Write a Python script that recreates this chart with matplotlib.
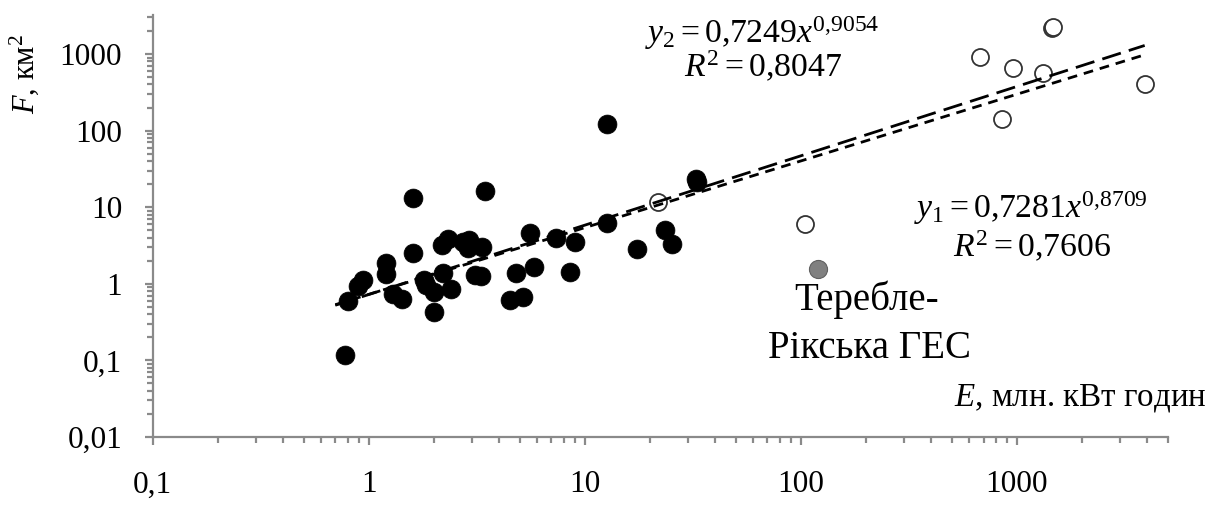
import matplotlib
matplotlib.use('Agg')
import matplotlib.pyplot as plt
from matplotlib.ticker import FixedLocator, LogLocator, NullFormatter
import numpy as np

plt.rcParams['font.family'] = ['Liberation Serif', 'DejaVu Serif']
plt.rcParams['mathtext.fontset'] = 'custom'
plt.rcParams['mathtext.rm'] = 'Liberation Serif'
plt.rcParams['mathtext.it'] = 'Liberation Serif:italic'

# small HPPs (filled black)
e_black = [0.78, 0.80, 0.89, 0.94, 1.20, 1.20, 1.30, 1.42, 1.61, 1.61,
           1.81, 1.84, 2.01, 2.01, 2.19, 2.21, 2.32, 2.40, 2.72, 2.87,
           2.90, 3.34, 3.10, 3.30, 3.46, 4.50, 4.79, 5.18, 5.56, 5.82,
           7.38, 8.50, 9.00, 12.6, 12.7, 17.5, 23.4, 25.2, 32.7, 33.0]
f_black = [0.119, 0.60, 0.94, 1.13, 1.86, 1.35, 0.74, 0.63, 13.1, 2.51,
           1.13, 0.97, 0.79, 0.43, 3.22, 1.38, 3.83, 0.85, 3.56, 2.92,
           3.70, 3.06, 1.31, 1.28, 16.3, 0.61, 1.38, 0.68, 4.58, 1.68,
           3.94, 1.41, 3.56, 122, 6.2, 2.83, 5.06, 3.32, 23.2, 21.5]

# large HPPs (open circles)
e_open = [21.8, 104, 671, 957, 1318, 851, 3926, 1460, 1475]
f_open = [11.8, 6.0, 903, 661, 569, 140, 402, 2210, 2250]

# Tereble-Rika HPP
e_grey = [120]
f_grey = [1.55]

# power trend lines y = a * x^b
a1, b1 = 0.7281, 0.8709
a2, b2 = 0.7249, 0.9054
x_fit = np.array([0.7, 3900])

x_ticks = [0.1, 1, 10, 100, 1000]
x_tick_labels = ['0,1', '1', '10', '100', '1000']
y_ticks = [0.01, 0.1, 1, 10, 100, 1000]
y_tick_labels = ['0,01', '0,1', '1', '10', '100', '1000']

W, H = 1223, 505
fig = plt.figure(figsize=(W / 100, H / 100), dpi=100)
ax = fig.add_axes([152.7 / W, (H - 437) / H, (1168 - 152.7) / W, (437 - 15) / H])
ax.set_xscale('log')
ax.set_yscale('log')
ax.set_xlim(0.1, 5000)
ax.set_ylim(0.01, 3230)

ax.scatter(e_black, f_black, s=185, c='black', edgecolors='black', linewidths=0.5, zorder=2)
ax.scatter(e_open, f_open, s=150, facecolors='white', edgecolors='#333333', linewidths=1.3, zorder=2)
ax.scatter(e_grey, f_grey, s=170, c='#808080', edgecolors='#606060', linewidths=0.8, zorder=2)

ax.plot(x_fit, a1 * x_fit ** b1, color='black', lw=2, dashes=(3.5, 2.5), zorder=3)
ax.plot(x_fit, a2 * x_fit ** b2, color='black', lw=2, dashes=(7, 3), zorder=3)

grey = '#8a8a8a'
for side in ['top', 'right']:
    ax.spines[side].set_visible(False)
for side in ['left', 'bottom']:
    ax.spines[side].set_color(grey)
    ax.spines[side].set_linewidth(1.6)

ax.xaxis.set_major_locator(FixedLocator(x_ticks))
ax.set_xticklabels(x_tick_labels)
ax.yaxis.set_major_locator(FixedLocator(y_ticks))
ax.set_yticklabels(y_tick_labels)
for axis in [ax.xaxis, ax.yaxis]:
    axis.set_minor_locator(LogLocator(base=10, subs=np.arange(2, 10)))
    axis.set_minor_formatter(NullFormatter())
ax.tick_params(which='major', direction='out', length=6, width=1.6, color=grey, labelsize=22.5)
ax.tick_params(which='minor', direction='out', length=4, width=1.6, color=grey)
ax.tick_params(axis='x', which='major', pad=18)
ax.tick_params(axis='y', which='major', pad=16)


def px(x, y):
    return x / W, 1 - y / H


fig.text(*px(762, 33), r'$y_2 = 0{,}7249x^{0{,}9054}$', fontsize=24.3, ha='center', va='center')
fig.text(*px(763, 67), r'$R^2 = 0{,}8047$', fontsize=24.3, ha='center', va='center')
fig.text(*px(1031, 208), r'$y_1 = 0{,}7281x^{0{,}8709}$', fontsize=24.3, ha='center', va='center')
fig.text(*px(1032, 247), r'$R^2 = 0{,}7606$', fontsize=24.3, ha='center', va='center')
fig.text(*px(867, 300), 'Тереблe-', fontsize=28, ha='center', va='center')
fig.text(*px(869, 349), 'Рікська ГЕС', fontsize=28, ha='center', va='center')
fig.text(*px(1207, 398), r'$E$, млн. кВт годин', fontsize=23.8, ha='right', va='center')
fig.text(*px(24, 74), r'$F$, км$^2$', fontsize=22, ha='center', va='center', rotation=90)

fig.savefig('out.png', dpi=100)
